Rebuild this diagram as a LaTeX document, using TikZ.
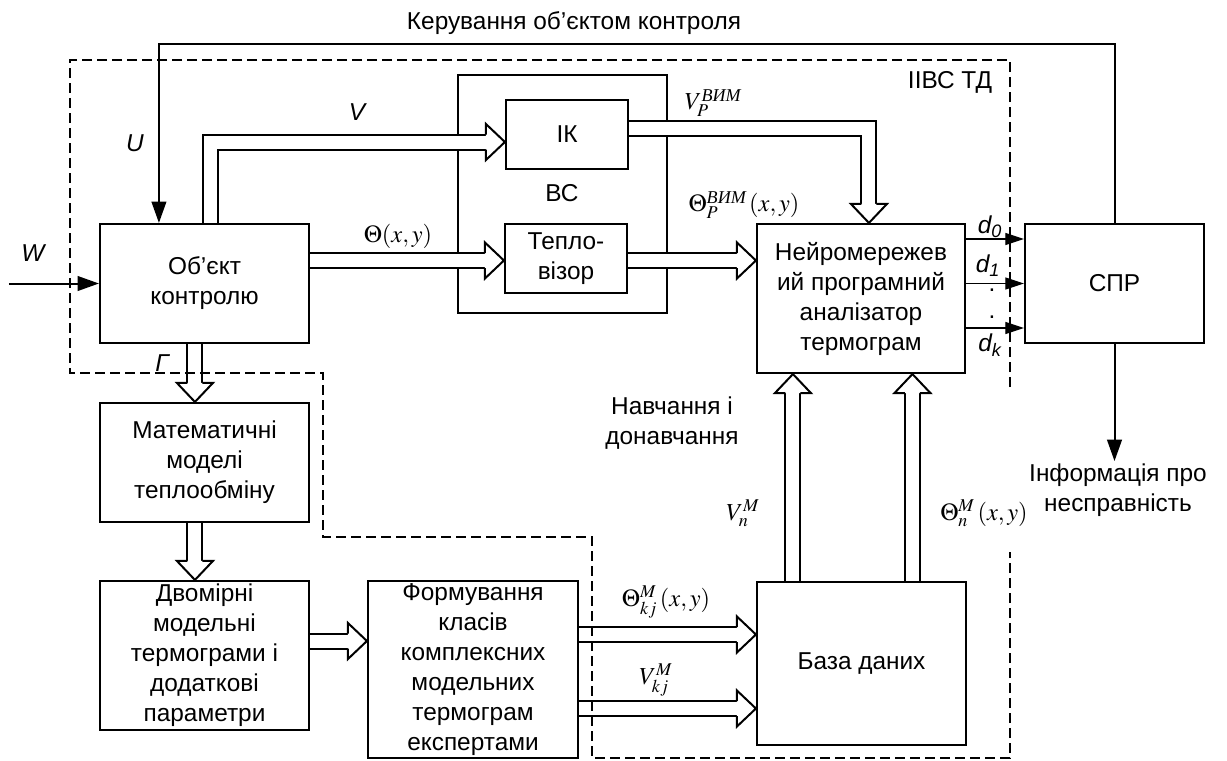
\documentclass[tikz,border=0pt]{standalone}
\usepackage{amsmath}
\usepackage{mathptmx}
\usepackage{fontspec}
\setmainfont{Liberation Sans}
\newfontfamily\tms{Liberation Serif}
\usetikzlibrary{arrows.meta,calc}

\tikzset{
  blk/.style={draw, line width=1.6pt, inner sep=0pt, align=center},
  lbl/.style={inner sep=1pt, align=center},
  fat/.style={draw, line width=1.5pt, double, double distance=9.75pt},
  arr/.style={line width=1.5pt, -{Triangle[length=16pt,width=11pt]}},
  darr/.style={line width=1pt, -{Triangle[length=14pt,width=9pt]}},
  bnd/.style={line width=1pt, dash pattern=on 7.5pt off 3.75pt},
  fathead/.pic={\draw[line width=1.5pt, fill=white] (-19,-7.5) -- (-19,-18) -- (0,0) -- (-19,18) -- (-19,7.5);}
}

\begin{document}
\begin{tikzpicture}[x=0.75pt, y=-0.75pt, font=\fontsize{18.3}{22.5}\selectfont]
\useasboundingbox (0,0) rectangle (1227,760);
% blocks
\node[blk, minimum width=156.75pt, minimum height=89.25pt] (obj) at (204.5,283.5) {Об’єкт\\контролю};
\node[blk, minimum width=156.75pt, minimum height=178.5pt] (vs) at (562.5,194) {};
\node[blk, minimum width=91.5pt, minimum height=51.75pt] (ik) at (567,134.5) {ІК};
\node[blk, minimum width=91.5pt, minimum height=51.75pt] (tv) at (566,258.5) {Тепло-\\візор};
\node[blk, minimum width=156pt, minimum height=111.75pt] (nn) at (861,298.5) {Нейромережев\\ий програмний\\аналізатор\\термограм};
\node[blk, minimum width=134.25pt, minimum height=89.25pt] (spr) at (1114.5,283.5) {СПР};
\node[blk, minimum width=156.75pt, minimum height=89.25pt] (mm) at (204.5,462.5) {Математичні\\моделі\\теплообміну};
\node[blk, minimum width=156.75pt, minimum height=111.75pt] (dm) at (204.5,655.5) {Двомірні\\модельні\\термограми і\\додаткові\\параметри};
\node[blk, minimum width=157.5pt, minimum height=132.75pt] (fk) at (473,669.5) {Формування\\класів\\комплексних\\модельних\\термограм\\експертами};
\node[blk, minimum width=156.75pt, minimum height=122.25pt] (bd) at (861.5,663.5) {База даних};

% labels
\node[lbl] (lkc) at (574,23) {Керування об’єктом контроля};
\node[lbl] (lw) at (33,253) {\itshape W};
\node[lbl] (lu) at (135,143) {\itshape U};
\node[lbl] (lv) at (357,112) {\itshape V};
\node[lbl] (lg) at (162,363) {\itshape Г};
\node[lbl] (lvs) at (562,193) {ВС};
\node[lbl] (liivs) at (950,82) {ІІВС ТД};
\node[lbl] (lth) at (398,236) {$\Theta(x, y)$};
\node[lbl] (lvp) at (713,103) {$V_P^{\text{\tms\itshape ВИМ}}$};
\node[lbl] (lthp) at (744,205) {$\Theta_P^{\text{\tms\itshape ВИМ}}\,(x, y)$};
\node[lbl] (ld0) at (990,227) {\itshape d\textsubscript{0}};
\node[lbl] (ld1) at (988,266) {\itshape d\textsubscript{1}};
\node[lbl] (ldt1) at (992,290) {.};
\node[lbl] (ldt2) at (992,317) {.};
\node[lbl] (ldk) at (990,345) {\itshape d\textsubscript{k}};
\node[lbl] (lnav) at (672,423) {Навчання і\\донавчання};
\node[lbl] (lvn) at (743,513) {$V_n^M$};
\node[lbl] (lthn) at (984,513) {$\Theta_n^M\,(x, y)$};
\node[lbl] (lthk) at (666,602) {$\Theta_{kj}^M\,(x, y)$};
\node[lbl] (lvk) at (656,680) {$V_{kj}^M$};
\node[lbl] (linf) at (1118,490) {Інформація про\\несправність};

% wide arrows
\coordinate (vin) at ($(ik.west)+(0,7.5)$);
\draw[fat] ($(obj.north west)+(111.5,0)$) |- ($(vin)+(-19,0)$);
\pic at (vin) {fathead};
\coordinate (tin) at ($(tv.west)+(0,2)$);
\draw[fat] (obj.east |- tin) -- ($(tin)+(-19,0)$);
\pic at (tin) {fathead};
\coordinate (nin) at (nn.west |- tin);
\draw[fat] (tv.east |- tin) -- ($(nin)+(-19,0)$);
\pic at (nin) {fathead};
\coordinate (vpin) at ($(nn.north west)+(113,0)$);
\draw[fat] ($(ik.east)+(0,-6.5)$) -| ($(vpin)+(0,-19)$);
\pic[rotate=-90] at (vpin) {fathead};
\coordinate (gin) at ($(mm.north west)+(96,0)$);
\draw[fat] (obj.south -| gin) -- ($(gin)+(0,-19)$);
\pic[rotate=-90] at (gin) {fathead};
\coordinate (din) at (dm.north -| gin);
\draw[fat] (mm.south -| gin) -- ($(din)+(0,-19)$);
\pic[rotate=-90] at (din) {fathead};
\coordinate (fin) at ($(fk.west)+(0,-28.5)$);
\draw[fat] (dm.east |- fin) -- ($(fin)+(-19,0)$);
\pic at (fin) {fathead};
\coordinate (bin1) at ($(bd.west)+(0,-29)$);
\coordinate (bin2) at ($(bd.west)+(0,45)$);
\foreach \b in {bin1,bin2} {
  \draw[fat] (fk.east |- \b) -- ($(\b)+(-19,0)$);
  \pic at (\b) {fathead};
}
\coordinate (nb1) at ($(nn.south west)+(37,0)$);
\coordinate (nb2) at ($(nn.south west)+(156.5,0)$);
\foreach \b in {nb1,nb2} {
  \draw[fat] (bd.north -| \b) -- ($(\b)+(0,19)$);
  \pic[rotate=90] at (\b) {fathead};
}

% thin arrows
\draw[arr] (spr.north) -- ++(0,-179) -| ($(obj.north west)+(60,0)$);
\coordinate (w0) at ($(obj.west)+(-90,0)$);
\draw[arr] (w0) -- (obj.west);
\foreach \dy in {-44.5,0,44.5}
  \draw[darr] ($(nn.east |- spr.west)+(0,\dy)$) -- ($(spr.west)+(0,\dy)$);
\coordinate (inf) at ($(spr.south)+(0,117)$);
\draw[arr] (spr.south) -- (inf);

% system boundary
\draw[bnd] (1010,387) -- (1010,60) -- (70,60) -- (70,373) -- (323,373) -- (323,537) -- (592,537) -- (592,758) -- (1010,758) -- (1010,552);
\end{tikzpicture}
\end{document}
